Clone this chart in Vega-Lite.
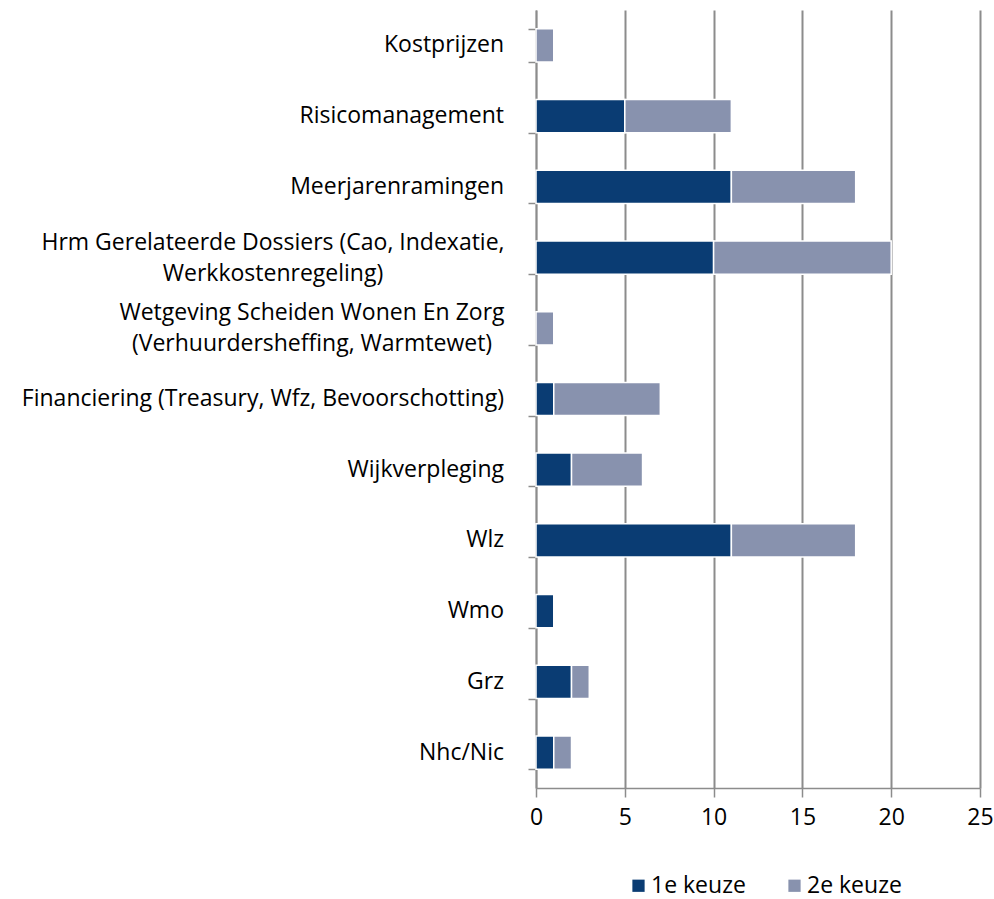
{
  "$schema": "https://vega.github.io/schema/vega-lite/v6.json",
  "width": 444,
  "height": 778,
  "autosize": "none",
  "padding": {"left": 536, "top": 10, "right": 14, "bottom": 111},
  "background": "white",
  "datasets": {
    "bars": [
      {"cat": "Kostprijzen", "keuze": "1e keuze", "n": 0},
      {"cat": "Kostprijzen", "keuze": "2e keuze", "n": 1},
      {"cat": "Risicomanagement", "keuze": "1e keuze", "n": 5},
      {"cat": "Risicomanagement", "keuze": "2e keuze", "n": 6},
      {"cat": "Meerjarenramingen", "keuze": "1e keuze", "n": 11},
      {"cat": "Meerjarenramingen", "keuze": "2e keuze", "n": 7},
      {"cat": "Hrm Gerelateerde Dossiers (Cao, Indexatie, Werkkostenregeling)", "keuze": "1e keuze", "n": 10},
      {"cat": "Hrm Gerelateerde Dossiers (Cao, Indexatie, Werkkostenregeling)", "keuze": "2e keuze", "n": 10},
      {"cat": "Wetgeving Scheiden Wonen En Zorg (Verhuurdersheffing, Warmtewet)", "keuze": "1e keuze", "n": 0},
      {"cat": "Wetgeving Scheiden Wonen En Zorg (Verhuurdersheffing, Warmtewet)", "keuze": "2e keuze", "n": 1},
      {"cat": "Financiering (Treasury, Wfz, Bevoorschotting)", "keuze": "1e keuze", "n": 1},
      {"cat": "Financiering (Treasury, Wfz, Bevoorschotting)", "keuze": "2e keuze", "n": 6},
      {"cat": "Wijkverpleging", "keuze": "1e keuze", "n": 2},
      {"cat": "Wijkverpleging", "keuze": "2e keuze", "n": 4},
      {"cat": "Wlz", "keuze": "1e keuze", "n": 11},
      {"cat": "Wlz", "keuze": "2e keuze", "n": 7},
      {"cat": "Wmo", "keuze": "1e keuze", "n": 1},
      {"cat": "Wmo", "keuze": "2e keuze", "n": 0},
      {"cat": "Grz", "keuze": "1e keuze", "n": 2},
      {"cat": "Grz", "keuze": "2e keuze", "n": 1},
      {"cat": "Nhc/Nic", "keuze": "1e keuze", "n": 1},
      {"cat": "Nhc/Nic", "keuze": "2e keuze", "n": 1}
    ],
    "labels": [
      {"cat": "Kostprijzen", "lbl": "Kostprijzen", "kind": "single"},
      {"cat": "Risicomanagement", "lbl": "Risicomanagement", "kind": "single"},
      {"cat": "Meerjarenramingen", "lbl": "Meerjarenramingen", "kind": "single"},
      {"cat": "Hrm Gerelateerde Dossiers (Cao, Indexatie, Werkkostenregeling)", "lbl": "Hrm Gerelateerde Dossiers (Cao, Indexatie,|Werkkostenregeling)", "kind": "hrm"},
      {"cat": "Wetgeving Scheiden Wonen En Zorg (Verhuurdersheffing, Warmtewet)", "lbl": "Wetgeving Scheiden Wonen En Zorg|(Verhuurdersheffing, Warmtewet)", "kind": "wet"},
      {"cat": "Financiering (Treasury, Wfz, Bevoorschotting)", "lbl": "Financiering (Treasury, Wfz, Bevoorschotting)", "kind": "single"},
      {"cat": "Wijkverpleging", "lbl": "Wijkverpleging", "kind": "single"},
      {"cat": "Wlz", "lbl": "Wlz", "kind": "single"},
      {"cat": "Wmo", "lbl": "Wmo", "kind": "single"},
      {"cat": "Grz", "lbl": "Grz", "kind": "single"},
      {"cat": "Nhc/Nic", "lbl": "Nhc/Nic", "kind": "single"}
    ]
  },
  "encoding": {
    "y": {
      "field": "cat",
      "type": "nominal",
      "sort": null,
      "scale": {
        "domain": [
          "Kostprijzen",
          "Risicomanagement",
          "Meerjarenramingen",
          "Hrm Gerelateerde Dossiers (Cao, Indexatie, Werkkostenregeling)",
          "Wetgeving Scheiden Wonen En Zorg (Verhuurdersheffing, Warmtewet)",
          "Financiering (Treasury, Wfz, Bevoorschotting)",
          "Wijkverpleging",
          "Wlz",
          "Wmo",
          "Grz",
          "Nhc/Nic"
        ],
        "paddingInner": 0.53,
        "paddingOuter": 0.265
      },
      "axis": {
        "title": null,
        "labels": false,
        "domainColor": "#8c8c8c",
        "domainWidth": 1.5,
        "tickColor": "#8c8c8c",
        "tickWidth": 1.5,
        "tickSize": 8,
        "tickBand": "extent"
      }
    }
  },
  "layer": [
    {
      "data": {"name": "bars"},
      "transform": [{"filter": "datum.n > 0"}],
      "mark": {"type": "bar", "stroke": "white", "strokeWidth": 1.5},
      "encoding": {
        "x": {
          "field": "n",
          "type": "quantitative",
          "stack": "zero",
          "scale": {"domain": [0, 25], "nice": false},
          "axis": {
            "title": null,
            "values": [0, 5, 10, 15, 20, 25],
            "grid": true,
            "gridColor": "#8c8c8c",
            "gridWidth": 2,
            "domainColor": "#8c8c8c",
            "domainWidth": 1.5,
            "tickColor": "#8c8c8c",
            "tickWidth": 1.5,
            "tickSize": 9,
            "labelFlush": false,
            "labelFont": "Open Sans",
            "labelFontSize": 23,
            "labelColor": "#000000",
            "labelPadding": 9
          }
        },
        "color": {
          "field": "keuze",
          "type": "nominal",
          "scale": {"domain": ["1e keuze", "2e keuze"], "range": ["#0a3c73", "#8892ae"]},
          "legend": {
            "title": null,
            "orient": "none",
            "direction": "horizontal",
            "legendX": 91,
            "legendY": 864,
            "symbolType": "square",
            "symbolSize": 150,
            "symbolStrokeWidth": 0,
            "labelFont": "Open Sans",
            "labelFontSize": 23,
            "labelColor": "#000000",
            "columnPadding": 37,
            "labelOffset": 1
          }
        },
        "order": {"field": "keuze", "sort": "ascending"}
      }
    },
    {
      "data": {"name": "labels"},
      "transform": [{"filter": "datum.kind == 'single'"}],
      "mark": {"type": "text", "align": "right", "baseline": "middle", "dx": -32, "font": "Open Sans", "fontSize": 23, "color": "#000000"},
      "encoding": {
        "x": {"datum": 0, "type": "quantitative", "title": null},
        "text": {"field": "lbl"}
      }
    },
    {
      "data": {"name": "labels"},
      "transform": [{"filter": "datum.kind == 'hrm'"}],
      "mark": {"type": "text", "align": "center", "baseline": "middle", "dx": -263, "dy": -15, "lineBreak": "|", "lineHeight": 31, "font": "Open Sans", "fontSize": 23, "color": "#000000"},
      "encoding": {
        "x": {"datum": 0, "type": "quantitative", "title": null},
        "text": {"field": "lbl"}
      }
    },
    {
      "data": {"name": "labels"},
      "transform": [{"filter": "datum.kind == 'wet'"}],
      "mark": {"type": "text", "align": "center", "baseline": "middle", "dx": -224, "dy": -15, "lineBreak": "|", "lineHeight": 31, "font": "Open Sans", "fontSize": 23, "color": "#000000"},
      "encoding": {
        "x": {"datum": 0, "type": "quantitative", "title": null},
        "text": {"field": "lbl"}
      }
    }
  ],
  "config": {"view": {"stroke": null}}
}
